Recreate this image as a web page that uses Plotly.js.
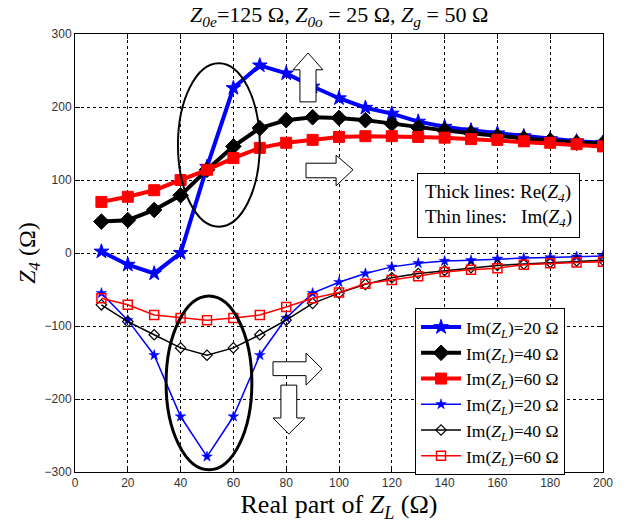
<!DOCTYPE html>
<html><head><meta charset="utf-8">
<script src="https://cdn.plot.ly/plotly-3.0.1.min.js"></script>
<style>body{margin:0;background:#fff}</style>
</head><body><div id="c" style="width:634px;height:527px"></div>
<script>
const xVals = [10,20,30,40,50,60,70,80,90,100,110,120,130,140,150,160,170,180,190,200];
const re20 = [2,-16,-28,0,118,226,257,246,228,212,199,191,180,173,168,164,160,156,153,151];
const re40 = [43,45,59,79,114,146,171,182,186,185,182,177,172,168,164,160,157,154,151,150];
const re60 = [70,77,86,100,114,130,144,151,155,159,160,160,159,158,156,155,153,151,149,146];
const im20 = [-55,-92,-140,-224,-279,-224,-140,-89,-55,-40,-28,-19,-14,-11,-10,-8,-7,-6,-5,-4];
const im40 = [-71,-94,-112,-130,-140,-130,-112,-92,-69,-55,-43,-34,-28,-24,-20,-17,-15,-13,-11,-10];
const im60 = [-62,-71,-85,-89,-92,-89,-85,-74,-62,-54,-42,-37,-32,-26,-23,-21,-16,-14,-13,-12];
const legendNames = ['Im(<i>Z<sub>L</sub></i>)=20 Ω','Im(<i>Z<sub>L</sub></i>)=40 Ω','Im(<i>Z<sub>L</sub></i>)=60 Ω'];

const serif = 'Liberation Serif, Times New Roman, serif';
function tr(y, name, color, width, sym, size, lw){
  return {x:xVals, y:y, name:name, type:'scatter', mode:'lines+markers',
    line:{color:color, width:width},
    marker:{symbol:sym, size:size, color:color, line:{color:color, width:lw}}};
}
const data = [
  tr(re20, legendNames[0], '#0000ff', 4, 'star', 11, 1),
  tr(re40, legendNames[1], '#000000', 4, 'diamond', 12, 1),
  tr(re60, legendNames[2], '#ff0000', 4, 'square', 11, 1),
  tr(im20, legendNames[0], '#0000ff', 1.5, 'star', 8, 0.5),
  tr(im40, legendNames[1], '#000000', 1.5, 'diamond-open', 8, 1.2),
  tr(im60, legendNames[2], '#ff0000', 1.5, 'square-open', 9, 1.5)
];

function arrowPath(pts){ return 'M ' + pts.map(p=>p[0]+','+p[1]).join(' L ') + ' Z'; }
const upArrow = arrowPath([[88.3,274],[93.9,251],[91.3,251],[91.3,207],[85.2,207],[85.2,251],[82.6,251]]);
const rightArrow1 = arrowPath([[105.3,114],[98.9,134],[98.9,123],[87.5,123],[87.5,103],[98.9,103],[98.9,92]]);
const rightArrow2 = arrowPath([[93.6,-159],[87.5,-137],[87.5,-149],[75,-149],[75,-168],[87.5,-168],[87.5,-181]]);
const downArrow = arrowPath([[81,-248],[87.1,-226],[84,-226],[84,-181],[78,-181],[78,-226],[75,-226]]);

const shapes = [
  {type:'circle', xref:'x', yref:'y', x0:39, x1:70, y0:36, y1:260, line:{color:'#000', width:2}},
  {type:'circle', xref:'x', yref:'y', x0:34.5, x1:67, y0:-297, y1:-59, line:{color:'#000', width:3}},
  {type:'path', xref:'x', yref:'y', path:upArrow, fillcolor:'#fff', line:{color:'#000', width:1}},
  {type:'path', xref:'x', yref:'y', path:rightArrow1, fillcolor:'#fff', line:{color:'#000', width:1}},
  {type:'path', xref:'x', yref:'y', path:rightArrow2, fillcolor:'#fff', line:{color:'#000', width:1}},
  {type:'path', xref:'x', yref:'y', path:downArrow, fillcolor:'#fff', line:{color:'#000', width:1}}
];

const axisCommon = {
  showline:true, linecolor:'#000', linewidth:1, mirror:'ticks',
  ticks:'inside', ticklen:5, tickcolor:'#000',
  showgrid:true, gridcolor:'#000', griddash:'3px,3px', gridwidth:1,
  zeroline:false, tickfont:{family:'Liberation Sans, Arial, sans-serif', size:12, color:'#333'}
};

const layout = {
  width:634, height:527,
  margin:{l:75, r:31, t:34, b:55},
  paper_bgcolor:'#fff', plot_bgcolor:'#fff',
  title:{text:'<i>Z</i><sub><i>0e</i></sub>=125 Ω, <i>Z</i><sub><i>0o</i></sub> = 25 Ω, <i>Z</i><sub><i>g</i></sub> = 50 Ω',
    font:{family:serif, size:22, color:'#000'}, x:0.535, xanchor:'center', y:0.972, yanchor:'middle'},
  xaxis:Object.assign({}, axisCommon, {range:[0,200], tick0:0, dtick:20,
    title:{text:'Real part of <i>Z<sub>L</sub></i> (Ω)', font:{family:serif, size:26, color:'#000'}, standoff:2}}),
  yaxis:Object.assign({}, axisCommon, {range:[-300,300], tick0:-300, dtick:100,
    title:{text:'<i>Z<sub>4</sub></i> (Ω)', font:{family:serif, size:24, color:'#000'}, standoff:2}}),
  showlegend:true,
  legend:{x:0.644, y:0.374, xanchor:'left', yanchor:'top', bgcolor:'#fff', bordercolor:'#000', borderwidth:1,
    font:{family:serif, size:17.5, color:'#000'}, tracegroupgap:0, itemwidth:40},
  shapes:shapes,
  annotations:[{xref:'paper', yref:'paper', x:0.648, y:0.682, xanchor:'left', yanchor:'top',
    text:'Thick lines: Re(<i>Z<sub>4</sub></i>)<br>Thin lines:   Im(<i>Z<sub>4</sub></i>)',
    showarrow:false, align:'left', font:{family:serif, size:19, color:'#000'},
    bgcolor:'#fff', bordercolor:'#000', borderwidth:1, borderpad:7}]
};
Plotly.newPlot('c', data, layout, {displayModeBar:false, staticPlot:true});
</script></body></html>
